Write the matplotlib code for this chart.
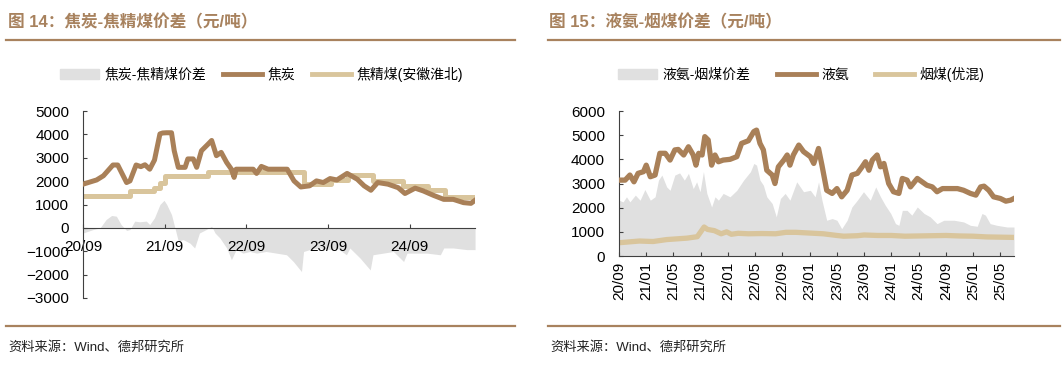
import matplotlib
matplotlib.use('Agg')
import numpy as np
from matplotlib import pyplot as plt
from matplotlib.patches import Patch
from matplotlib.lines import Line2D

plt.rcParams['font.family'] = ['Liberation Sans', 'Noto Sans CJK SC']

# 图14 数据 (x = 距2020/09的月数)
coke_m = [0, 2, 3, 4.4, 5.1, 6.4, 6.9, 7.8, 8.5, 9.1, 9.8, 10.5, 11.3, 11.7, 12.3, 13.0,
          13.4, 14.0, 15.0, 15.4, 16.2, 16.7, 17.4, 18.4, 18.9, 19.6, 20.3, 21.1, 21.8,
          22.2, 22.5, 24.0, 25.0, 25.5, 26.2, 27.2, 30.0, 31.0, 32.0, 33.3, 34.3, 35.3,
          36.3, 37.3, 38.8, 40.3, 41.3, 42.3, 43.3, 44.8, 46.3, 47.3, 48.8, 50.0, 51.5,
          53.0, 54.4, 55.9, 57.0, 57.6]
coke = [1870, 2050, 2230, 2690, 2690, 1940, 2010, 2690, 2620, 2700, 2510, 2900, 4020,
        4060, 4070, 4070, 3300, 2590, 2590, 2950, 2950, 2590, 3300, 3590, 3740, 3090,
        3230, 2800, 2510, 2160, 2510, 2510, 2510, 2330, 2630, 2510, 2510, 2010, 1750,
        1800, 2010, 1940, 2110, 2050, 2330, 2080, 1800, 1610, 1940, 1870, 1720, 1470,
        1700, 1580, 1390, 1220, 1220, 1080, 1050, 1180]

coal_m = [0, 6.9, 10.4, 11.3, 12.0, 18.4, 32.4, 36.5, 39.0, 42.6, 47.0, 50.7, 53.2, 57.6]
coal = [1380, 1560, 1720, 1920, 2230, 2400, 1880, 2050, 2250, 1990, 1780, 1600, 1310, 1310]

gap1_m = [0, 1.5, 2.5, 3.4, 4.2, 4.9, 5.6, 6.4, 6.9, 7.6, 8.3, 9.3, 9.8, 10.5, 11.3, 11.9,
          12.3, 13.0, 13.5, 14.0, 14.7, 15.7, 16.4, 17.1, 18.1, 18.9, 19.4, 20.1, 21.1,
          21.8, 22.5, 23.5, 24.5, 25.5, 26.9, 28.4, 29.9, 30.9, 32.1, 32.4, 33.3, 34.8,
          36.3, 37.3, 38.7, 39.2, 40.7, 42.2, 42.6, 44.1, 45.6, 47.1, 47.6, 49.0, 50.5,
          52.5, 53.0, 54.4, 56.4, 57.6]
gap1 = [-220, -70, 0, 360, 530, 500, 140, -110, -70, 290, 260, 290, 140, 430, 1000, 1180,
        1000, 570, 0, -570, -500, -650, -860, -220, -70, 70, -220, -430, -860, -1360,
        -930, -1080, -1010, -1080, -1010, -1080, -1150, -1440, -1870, -1010, -930, -860,
        -930, -860, -1150, -860, -1290, -1800, -1150, -1080, -1010, -1440, -1080, -1080,
        -1080, -1150, -860, -860, -930, -930]

ticks1 = [0, 12, 24, 36, 48]
labels1 = ['20/09', '21/09', '22/09', '23/09', '24/09']

# 图15 数据
nh3_m = [0, 0.9, 1.6, 2.2, 2.8, 3.6, 4.0, 4.6, 5.3, 6.0, 6.8, 7.5, 8.2, 8.7, 9.5, 10.2,
         10.9, 11.3, 11.7, 12.2, 12.6, 13.1, 13.6, 14.1, 14.6, 15.3, 16.3, 17.3, 18.0,
         19.0, 19.8, 20.2, 20.7, 21.2, 21.7, 22.5, 22.9, 23.4, 24.2, 24.7, 25.1, 25.6,
         26.4, 27.1, 28.1, 28.6, 29.3, 29.8, 30.5, 31.3, 32.0, 32.7, 33.5, 34.2, 35.0,
         35.7, 36.2, 36.7, 37.2, 37.9, 38.4, 38.9, 39.6, 40.3, 41.1, 41.6, 42.3, 42.8,
         43.8, 44.5, 45.2, 46.0, 46.7, 47.5, 48.7, 49.7, 50.6, 51.6, 52.4, 53.1, 53.6,
         54.3, 55.0, 56.0, 56.8, 57.5, 58.0]
nh3 = [3140, 3140, 3350, 3070, 3420, 3490, 3760, 3280, 3350, 4250, 4250, 3970, 4390, 4410,
       4180, 4520, 4180, 3760, 4250, 4180, 4940, 4800, 3760, 4180, 3900, 3970, 4000, 4110,
       4660, 4770, 5150, 5210, 4660, 4390, 3550, 3350, 3000, 3690, 3970, 4180, 3760, 4180,
       4590, 4320, 4110, 3830, 4450, 3760, 2720, 2590, 2790, 2450, 2720, 3350, 3420, 3690,
       3900, 3550, 3970, 4180, 3690, 3830, 3000, 2660, 2590, 3210, 3140, 2860, 3210, 3070,
       2930, 2860, 2660, 2790, 2790, 2790, 2720, 2590, 2520, 2860, 2890, 2720, 2450, 2380,
       2270, 2310, 2380]

bit_m = [0, 3, 5, 7, 10, 11.5, 12.5, 13, 14, 15, 15.8, 16.5, 17.5, 19, 21, 23, 24.5, 26,
         28, 30, 32, 33, 35, 36, 38, 40, 42, 44, 48, 50, 52, 54, 56, 58]
bit = [550, 620, 600, 680, 740, 800, 1200, 1100, 1050, 920, 1000, 900, 940, 920, 930, 920,
       980, 980, 950, 920, 850, 820, 840, 870, 850, 850, 820, 830, 850, 830, 820, 790, 780,
       770]

gap2_m = [0, 0.6, 1.1, 1.6, 2.4, 3.1, 3.8, 4.6, 5.3, 5.8, 6.3, 7.0, 7.5, 8.2, 8.9, 9.6,
          10.2, 10.9, 11.4, 11.9, 12.4, 12.9, 13.6, 14.1, 14.6, 15.3, 16.3, 17.3, 18.3,
          19.3, 19.8, 20.2, 20.7, 21.2, 21.7, 22.5, 23.1, 23.7, 24.4, 25.1, 26.1, 27.1,
          28.1, 28.8, 29.3, 29.8, 30.5, 31.3, 32.0, 32.7, 33.5, 34.2, 35.0, 35.9, 36.9,
          37.7, 38.4, 39.1, 39.9, 40.6, 41.1, 41.6, 42.3, 43.0, 43.8, 44.8, 45.7, 46.7,
          47.7, 49.2, 50.6, 51.6, 52.6, 53.3, 53.8, 54.5, 55.5, 57.0, 58.0]
gap2 = [2310, 2240, 2450, 2240, 2520, 2310, 2750, 2310, 2450, 3140, 3350, 2860, 2720, 3350,
        3440, 3140, 3420, 2790, 3070, 2660, 3490, 2590, 2030, 2450, 2310, 2590, 2450, 2720,
        3140, 3490, 3830, 3760, 3140, 2930, 2450, 2170, 1620, 2380, 2590, 2310, 3070, 2660,
        2720, 2450, 3070, 2310, 1480, 1550, 1480, 1130, 1480, 2030, 2310, 2660, 2310, 2860,
        2450, 2100, 1760, 1340, 1270, 1890, 1890, 1690, 2030, 1760, 1620, 1340, 1480, 1480,
        1410, 1270, 1230, 1760, 1690, 1340, 1270, 1200, 1200]

ticks2 = list(range(0, 57, 4))
labels2 = ['20/09', '21/01', '21/05', '21/09', '22/01', '22/05', '22/09', '23/01',
           '23/05', '23/09', '24/01', '24/05', '24/09', '25/01', '25/05']

BROWN = '#a98058'
TAN = '#d9c59c'
GREY = '#e0e0e0'
RULE = '#a8825e'

fig = plt.figure(figsize=(10.63, 3.66), dpi=100)


def deco(ax):
    for s in ['top', 'right']:
        ax.spines[s].set_visible(False)
    for s in ['left', 'bottom']:
        ax.spines[s].set_color('#404040')
        ax.spines[s].set_linewidth(0.8)
    ax.tick_params(direction='in', length=3, width=0.8, color='#404040', labelsize=11)
    ax.tick_params(axis='y', pad=10)


# 左图
ax1 = fig.add_axes([0.0781, 0.1858, 0.3688, 0.5109])
ax1.fill_between(gap1_m, 0, gap1, color=GREY, lw=0, zorder=1)
ax1.plot(coke_m, coke, color=BROWN, lw=3.6, zorder=3)
ax1.step(coal_m, coal, where='post', color=TAN, lw=3.6, zorder=2)
ax1.set_xlim(0, 57.6)
ax1.set_ylim(-3000, 5000)
ax1.set_yticks(range(-3000, 5001, 1000))
ax1.set_xticks(ticks1)
ax1.set_xticklabels(labels1)
deco(ax1)
ax1.spines['bottom'].set_position(('data', 0))
ax1.tick_params(axis='x', pad=9)

# 右图
ax2 = fig.add_axes([0.5823, 0.3005, 0.3716, 0.3962])
ax2.fill_between(gap2_m, 0, gap2, color=GREY, lw=0, zorder=1)
ax2.plot(nh3_m, nh3, color=BROWN, lw=3.8, zorder=3)
ax2.plot(bit_m, bit, color=TAN, lw=3.8, zorder=2)
ax2.set_xlim(0, 58)
ax2.set_ylim(0, 6000)
ax2.set_yticks(range(0, 6001, 1000))
ax2.set_xticks(ticks2)
ax2.set_xticklabels(labels2, rotation=90)
deco(ax2)
ax2.tick_params(axis='x', pad=4)

# 标题和分隔线
cjk = ['Liberation Sans', 'Noto Sans CJK SC']
fig.text(8 / 1063, 1 - 22 / 366, '图 14：焦炭-焦精煤价差（元/吨）', fontsize=12, fontweight='bold',
         color=RULE, va='center', family=cjk)
fig.text(549 / 1063, 1 - 22 / 366, '图 15：液氨-烟煤价差（元/吨）', fontsize=12, fontweight='bold',
         color=RULE, va='center', family=cjk)
for x0, x1 in [(6, 515), (548, 1060)]:
    for yy in [40, 326]:
        fig.add_artist(Line2D([x0 / 1063, x1 / 1063], [1 - yy / 366] * 2, color=RULE, lw=1.6))
    fig.text((x0 + 2) / 1063, 1 - 347 / 366, '资料来源：Wind、德邦研究所', fontsize=9.5,
             va='center', family=cjk, color='#222222')

# 图例
h1 = [Patch(color=GREY), Line2D([], [], color=BROWN, lw=3.5), Line2D([], [], color=TAN, lw=3.5)]
fig.legend(h1, ['焦炭-焦精煤价差', '焦炭', '焦精煤(安徽淮北)'], loc='center',
           bbox_to_anchor=(0.246, 1 - 74 / 366), ncol=3, frameon=False,
           handlelength=2.8, handletextpad=0.4, columnspacing=1.2, prop={'family': cjk, 'size': 10})
fig.legend(h1, ['液氨-烟煤价差', '液氨', '烟煤(优混)'], loc='center',
           bbox_to_anchor=(0.754, 1 - 74 / 366), ncol=3, frameon=False,
           handlelength=2.8, handletextpad=0.4, columnspacing=1.9, prop={'family': cjk, 'size': 10})

fig.savefig('out.png', dpi=100)
